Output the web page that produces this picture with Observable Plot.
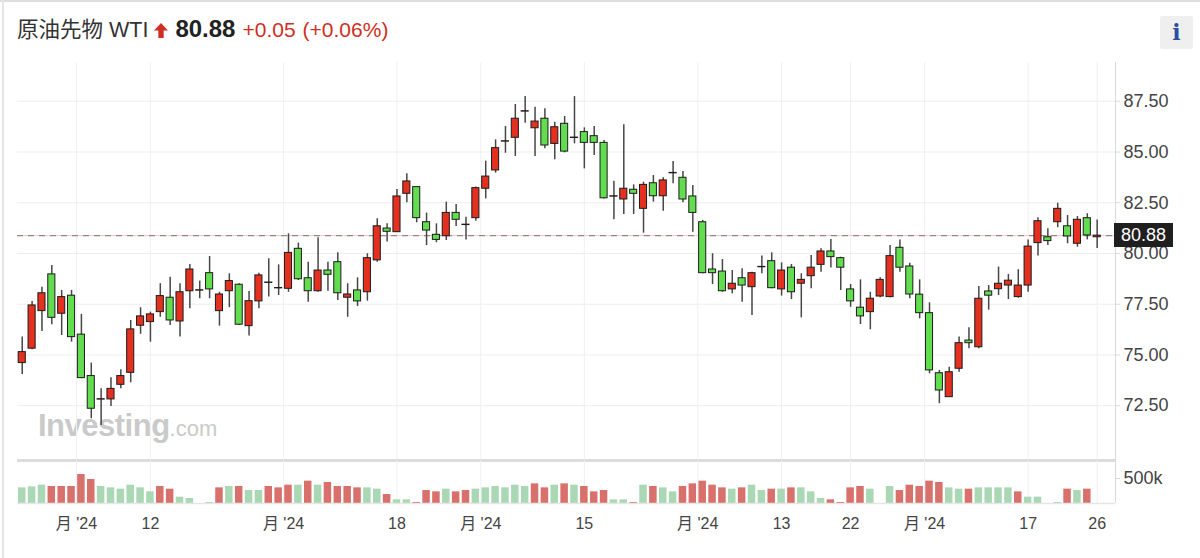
<!DOCTYPE html>
<html>
<head>
<meta charset="utf-8">
<script src="https://cdn.jsdelivr.net/npm/d3@7"></script>
<script src="https://cdn.jsdelivr.net/npm/@observablehq/plot@0.6"></script>
<style>
  html, body { margin: 0; padding: 0; background: #fff; }
  #card { position: relative; width: 1200px; height: 558px; overflow: hidden; background: #fff;
          font-family: "Liberation Sans", "Noto Sans CJK JP", sans-serif; }
  #lborder { position: absolute; left: 2px; top: 0; width: 2px; height: 558px; background: #e6e6e6; }
  #tborder { position: absolute; left: 0; top: 0; width: 1200px; height: 2px; background: #dedede; }
  #hdr { position: absolute; left: 17px; top: 14px; line-height: 30px; white-space: nowrap; }
  #hdr .t { font-size: 21.5px; color: #333; }
  #hdr .p { font-size: 24px; font-weight: bold; color: #222; margin-left: 7px; }
  #hdr .c { font-size: 21px; color: #cf2f24; margin-left: 7px; }
  #hdr svg { margin-left: 6px; vertical-align: -1px; }
  #info { position: absolute; left: 1160px; top: 16px; width: 33px; height: 33px; background: #efefef;
          border-radius: 2px; text-align: center; line-height: 33px; font-family: "DejaVu Serif", "Liberation Serif", serif;
          font-weight: bold; font-size: 22px; color: #2b4f9e; }
  #wm { position: absolute; left: 38px; top: 410px; line-height: 1; color: #cacaca; white-space: nowrap; }
  #wm .a { font-size: 31px; font-weight: bold; letter-spacing: -0.5px; }
  #wm .b { font-size: 22px; }
  #price { position: absolute; left: 0; top: 62px; }
  #vol { position: absolute; left: 0; top: 460px; }
  #sep { position: absolute; left: 17px; top: 459px; width: 1098px; height: 3px; background: #dcdcdc; }
  #lastbox { position: absolute; left: 1114px; width: 59px; height: 24px; background: #1f1f1f; color: #fff;
             font-size: 18px; line-height: 24px; text-align: center; }
  svg [aria-label="y-axis tick label"], svg [aria-label="x-axis tick label"] { fill: #444; }
</style>
</head>
<body>
<div id="card">
  <div id="tborder"></div>
  <div id="lborder"></div>
  <div id="hdr">
    <span class="t">原油先物 WTI</span><svg width="14" height="15" viewBox="0 0 13 14"><polygon points="6.5,0 13,7 9,7 9,14 4,14 4,7 0,7" fill="#cf2f24"/></svg><span class="p" id="hp"></span><span class="c" id="hc"></span><span class="c" id="hpc"></span>
  </div>
  <div id="info">i</div>
  <div id="wm"><span class="a">Investing</span><span class="b">.com</span></div>
  <div id="price"></div>
  <div id="sep"></div>
  <div id="vol"></div>
  <div id="lastbox"></div>
</div>
<script>
// ---- data (daily candles, index order) ----
const open  = [74.60,75.31,77.16,78.97,77.03,77.92,76.00,73.96,72.80,72.81,
               73.53,74.12,76.44,76.62,77.11,77.82,76.65,78.14,78.17,79.03,
               77.16,78.14,78.46,76.42,77.64,78.55,78.28,78.26,80.23,78.78,
               78.14,79.16,79.57,77.82,78.18,78.09,79.66,81.23,81.05,82.94,
               83.27,81.54,80.92,80.85,82.00,81.40,81.74,83.19,84.09,85.51,
               85.70,86.99,86.17,86.64,85.40,86.39,85.69,85.98,85.78,85.45,
               82.80,82.66,83.14,82.20,83.46,82.82,83.95,83.73,82.81,81.54,
               79.21,79.11,78.23,78.78,78.34,79.32,79.62,78.23,79.30,78.51,
               78.88,79.44,80.10,79.77,78.23,77.33,77.11,77.88,77.85,80.28,
               79.36,77.97,77.06,74.10,72.92,74.32,75.71,75.38,78.13,78.24,
               78.42,77.85,78.42,80.51,80.80,81.54,81.34,80.48,81.74,80.80];
const high  = [75.88,77.64,78.34,79.41,78.18,78.18,77.00,74.60,73.33,73.88,
               74.27,76.70,77.33,77.11,78.51,78.83,78.51,79.46,78.64,79.85,
               78.09,79.00,78.51,78.13,79.03,79.74,79.44,80.97,80.51,79.57,
               80.77,79.57,80.03,78.51,78.80,79.99,81.71,81.46,83.15,83.93,
               83.27,81.99,81.46,82.53,82.41,81.79,83.27,84.55,85.60,86.26,
               87.34,87.73,87.21,87.13,86.47,86.75,87.73,86.19,86.26,85.57,
               83.56,86.34,83.38,83.51,83.84,83.73,84.53,84.04,83.35,81.63,
               79.99,79.70,79.16,79.25,79.08,79.87,80.03,79.54,79.46,79.00,
               79.90,80.23,80.69,79.82,78.47,78.70,78.09,78.80,80.39,80.67,
               79.52,78.70,77.57,74.24,74.40,75.88,76.34,78.37,78.42,79.33,
               78.97,79.20,80.67,81.76,81.22,82.48,81.87,81.82,81.96,81.65];
const low   = [74.04,75.26,76.16,76.49,75.96,75.63,73.83,71.86,71.53,72.46,
               73.33,73.63,76.02,75.63,76.86,76.45,75.88,77.28,77.77,77.77,
               76.42,77.33,76.45,75.93,77.28,77.85,77.93,78.09,78.67,77.60,
               78.09,78.14,77.68,76.86,77.39,77.65,79.57,80.56,81.05,82.50,
               81.51,80.39,80.53,80.64,81.33,80.67,81.59,82.69,83.96,84.94,
               84.78,86.42,84.78,85.16,84.62,84.96,85.40,84.17,84.83,82.69,
               81.66,81.92,81.92,81.00,82.53,82.08,83.43,82.50,81.05,79.00,
               78.47,78.09,78.01,77.60,76.95,79.00,78.26,77.90,77.73,76.83,
               78.26,79.08,79.28,78.18,77.35,76.50,76.24,77.82,77.82,79.08,
               77.77,76.78,74.07,72.60,72.92,74.15,75.31,75.31,77.21,77.93,
               77.73,77.80,78.09,79.87,80.39,81.27,80.48,80.31,80.67,80.25];
const close = [75.14,77.44,78.04,76.83,77.85,75.88,73.86,72.35,72.82,73.33,
               73.96,76.26,76.90,77.00,77.90,76.70,78.09,79.21,78.19,78.23,
               77.98,78.64,76.49,77.65,78.92,78.57,78.30,80.03,78.73,78.14,
               79.16,78.95,78.04,77.98,77.64,79.77,81.34,81.07,82.81,83.55,
               81.74,81.13,80.67,82.00,81.66,81.42,83.22,83.79,85.19,85.53,
               86.64,87.01,86.50,85.32,86.22,85.02,85.71,85.45,85.45,82.72,
               82.82,83.19,82.94,83.38,82.82,83.60,83.97,82.66,82.00,79.03,
               79.03,78.14,78.51,78.42,79.03,79.34,78.29,79.16,78.09,78.70,
               79.30,80.10,79.82,79.30,77.64,76.90,77.77,78.70,79.87,79.30,
               77.98,77.06,74.24,73.25,74.15,75.58,75.58,77.77,77.92,78.51,
               78.66,78.42,80.34,81.59,80.61,82.20,80.84,81.66,80.89,80.88];
// volume in thousands, and bar colour (G = green, R = red), per day
const volumeK = [313,333,367,340,340,340,580,480,340,313,
                 287,367,313,233,340,287,127,100,0,20,
                 313,340,340,260,260,340,313,367,367,447,
                 367,420,340,340,313,313,287,180,73,73,
                 20,260,233,287,233,260,287,313,340,313,
                 367,340,393,313,367,393,367,340,233,260,
                 73,73,20,367,340,313,233,340,393,447,
                 367,313,287,313,367,260,287,287,313,313,
                 233,100,73,20,313,340,287,0,340,260,
                 367,340,447,420,313,287,287,313,313,313,
                 313,233,127,127,0,20,287,260,287,0];
const volumeSide = ["G","G","G","R","R","R","R","R","G","G",
                    "G","G","G","G","R","R","G","G","G","G",
                    "R","G","R","G","G","R","R","R","G","R",
                    "G","R","R","R","R","G","G","R","G","G",
                    "R","R","R","G","R","R","G","G","G","G",
                    "G","G","R","R","G","R","G","R","R","R",
                    "G","G","R","G","R","G","G","R","R","R",
                    "R","R","G","R","G","G","R","G","R","G",
                    "G","G","R","R","R","R","G","G","G","R",
                    "R","R","R","R","G","G","R","G","G","G",
                    "G","R","G","G","G","G","R","G","R","G"];
// x-axis tick positions (day index) and labels
const tickIndex = [5.5, 13, 26.5, 38, 46.5, 57, 68.5, 77, 84, 91.5, 102, 109];
const tickLabel = ["月 '24","12","月 '24","18","月 '24","15","月 '24","13","22","月 '24","17","26"];
const priceTicks = [72.5, 75, 77.5, 80, 82.5, 85, 87.5];
const volumeTicks = [500];
const lastPrice = 80.88;
const change = "+0.05";
const changePct = "(+0.06%)";

// ---- styling / layout ----
const RED = "#e3301f", GREEN = "#62dd4f";
const VRED = "#d8716b", VGREEN = "#abd8b4";
const FONT = "'Liberation Sans', 'Noto Sans CJK JP', sans-serif";
const W = 1200;
const xDomain = [-0.48, 110.86];
const yDomain = [69.80, 89.41];
const vDomain = [0, 860];

document.getElementById("hp").textContent = lastPrice.toFixed(2);
document.getElementById("hc").textContent = change;
document.getElementById("hpc").textContent = changePct;

const candles = close.map((c, i) => ({i, open: open[i], high: high[i], low: low[i], close: c}));
const vols = volumeK.map((v, i) => ({i, v, side: volumeSide[i]}));

const price = Plot.plot({
  width: W, height: 398,
  marginTop: 0, marginBottom: 0, marginLeft: 17, marginRight: 85,
  style: {background: "transparent", fontFamily: FONT, fontSize: "18px", color: "#444", overflow: "visible"},
  x: {domain: xDomain, axis: null, label: null},
  y: {domain: yDomain, axis: null, label: null},
  marks: [
    Plot.gridY(priceTicks, {stroke: "#ededed", strokeOpacity: 1}),
    Plot.gridX(tickIndex, {stroke: "#f0f0f0", strokeOpacity: 1}),
    Plot.ruleY([lastPrice], {stroke: "#f6c4c4", strokeWidth: 1}),
    Plot.ruleY([lastPrice], {stroke: "#9b8686", strokeWidth: 1.4, strokeDasharray: "6,5"}),
    Plot.ruleX(candles, {x: "i", y1: "low", y2: "high", stroke: "#474747", strokeWidth: 1.5}),
    Plot.rect(candles, {
      x1: d => d.i - 0.36, x2: d => d.i + 0.36,
      y1: "open", y2: "close",
      fill: d => d.close >= d.open ? RED : GREEN,
      stroke: "#1c1c1c", strokeWidth: 1
    }),
    Plot.ruleX([xDomain[1]], {stroke: "#d6dae4"}),
    Plot.axisY(priceTicks, {anchor: "right", tickSize: 4, tickPadding: 4, label: null,
      tickFormat: d => d.toFixed(2), stroke: "#d6dae4", fontSize: 18})
  ]
});
document.getElementById("price").appendChild(price);

const vol = Plot.plot({
  width: W, height: 98,
  marginTop: 0, marginBottom: 55, marginLeft: 17, marginRight: 85,
  style: {background: "transparent", fontFamily: FONT, fontSize: "16px", color: "#444", overflow: "visible"},
  x: {domain: xDomain, axis: null, label: null},
  y: {domain: vDomain, axis: null, label: null},
  marks: [
    Plot.gridX(tickIndex, {stroke: "#f0f0f0", strokeOpacity: 1}),
    Plot.rect(vols.filter(d => d.v > 0), {
      x1: d => d.i - 0.38, x2: d => d.i + 0.38,
      y1: d => 0, y2: "v",
      fill: d => d.side === "G" ? VGREEN : VRED
    }),
    Plot.ruleY([0], {stroke: "#e6e6e6", strokeWidth: 1.5}),
    Plot.ruleX([xDomain[1]], {stroke: "#d6dae4"}),
    Plot.axisY(volumeTicks, {anchor: "right", tickSize: 4, tickPadding: 4, label: null,
      tickFormat: d => d + "k", stroke: "#d6dae4", fontSize: 18}),
    Plot.axisX(tickIndex, {anchor: "bottom", tickSize: 0, tickPadding: 14, label: null,
      tickFormat: d => tickLabel[tickIndex.indexOf(d)], fontSize: 16})
  ]
});
document.getElementById("vol").appendChild(vol);

// last price label box positioned with the plot's own y scale
const yPix = price.scale("y").apply(lastPrice);
const box = document.getElementById("lastbox");
box.textContent = lastPrice.toFixed(2);
box.style.top = (62 + yPix - 12) + "px";
</script>
</body>
</html>
